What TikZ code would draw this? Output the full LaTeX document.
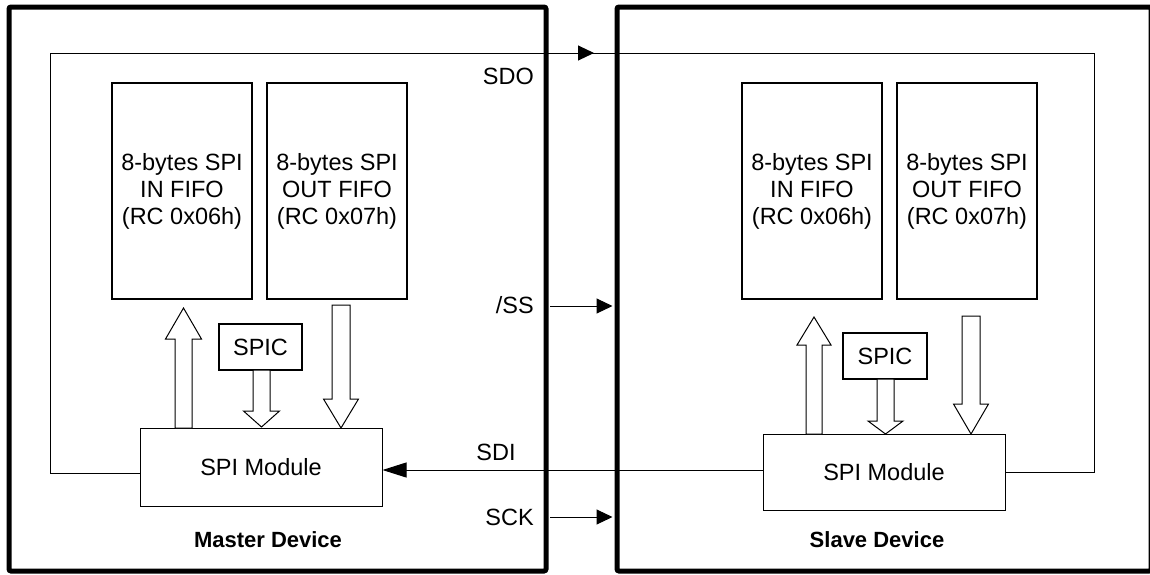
\documentclass[tikz,border=0pt]{standalone}
\usepackage{fontspec}
\setmainfont{Liberation Sans}
\usetikzlibrary{arrows.meta}
\newcommand\blkarrow[6]{\draw[blk] ({#1-#5},#2) -- ({#1-#5},#3) -- ({#1-#6},#3) -- (#1,#4) -- ({#1+#6},#3) -- ({#1+#5},#3) -- ({#1+#5},#2) -- cycle;}
\begin{document}
\begin{tikzpicture}[x=1pt,y=-1pt,
  txt/.style={font=\fontsize{23.5}{27}\selectfont},
  dev/.style={draw,line width=5pt,rounded corners=2pt,inner sep=0pt},
  fifo/.style={txt,draw,line width=1.3pt,minimum width=140pt,minimum height=216pt,inner sep=0pt,align=center},
  module/.style={txt,draw,line width=1pt,minimum width=242pt,inner sep=0pt},
  spic/.style={txt,draw,line width=1.3pt,minimum width=84pt,minimum height=46pt,inner sep=0pt},
  lbl/.style={txt,inner sep=0pt},
  devlbl/.style={inner sep=0pt,font=\fontsize{22}{25}\selectfont\bfseries},
  blk/.style={draw,line width=1pt,fill=white},
  sig/.style={line width=1pt,-{Triangle[length=16pt,width=15pt]}},
  wire/.style={line width=1pt}]
\useasboundingbox (0,0) rectangle (1150,574);
% device frames
\node[dev,minimum width=537pt,minimum height=564pt] (master) at (277.5,289) {};
\node[dev,minimum width=534pt,minimum height=564pt] (slave) at (884,289) {};
% master internals
\node[fifo] (min) at (182,191) {8-bytes SPI\\IN FIFO\\(RC 0x06h)};
\node[fifo] (mout) at (337,191) {8-bytes SPI\\OUT FIFO\\(RC 0x07h)};
\node[module,minimum height=78pt] (mmod) at (261,467) {SPI Module};
\node[spic,minimum width=83pt] (mspic) at (260.5,347) {SPIC};
\node[devlbl] (mlbl) at (268,540) {Master Device};
% slave internals
\node[fifo] (sin) at (812,191) {8-bytes SPI\\IN FIFO\\(RC 0x06h)};
\node[fifo] (sout) at (967,191) {8-bytes SPI\\OUT FIFO\\(RC 0x07h)};
\node[module,minimum height=76pt] (smod) at (884,472) {SPI Module};
\node[spic] (sspic) at (885,356) {SPIC};
\node[devlbl] (slbl) at (877,540) {Slave Device};
% block arrows
\blkarrow{183.5}{428}{339}{308}{8.5}{18}
\blkarrow{261.5}{370}{411}{427}{8.5}{18}
\blkarrow{341}{305}{399}{428}{9}{17.5}
\blkarrow{814}{434}{345}{317}{8}{17}
\blkarrow{885.5}{379}{421}{434}{8.5}{17.5}
\blkarrow{971}{316}{404}{434}{9}{17.5}
% signal labels
\node[lbl,anchor=east] (sdo) at (534,76) {SDO};
\node[lbl,anchor=east] (ss) at (534,305) {/SS};
\node[lbl] (sdi) at (496,452) {SDI};
\node[lbl,anchor=east] (sck) at (534,517) {SCK};
% SDO wire
\coordinate (sdoBL) at (50,473);
\coordinate (sdoTL) at (50,53);
\coordinate (sdoA) at (594,53);
\coordinate (sdoTR) at (1094,53);
\draw[wire] (mmod.west |- sdoBL) -- (sdoBL) -- (sdoTL) -- (sdoTR) |- (smod.east);
\draw[sig] (sdoTL) -- (sdoA);
% /SS and SCK
\coordinate (ssS) at (550,306);
\coordinate (sckS) at (550,517);
\draw[sig,shorten >=2pt] (ssS) -- (slave.west |- ssS);
\draw[sig,shorten >=2pt] (sckS) -- (slave.west |- sckS);
% SDI
\coordinate (sdiY) at (0,470);
\draw[line width=1pt,-{Triangle[length=24pt,width=15pt]}] (smod.west |- sdiY) -- (mmod.east |- sdiY);
\end{tikzpicture}
\end{document}
